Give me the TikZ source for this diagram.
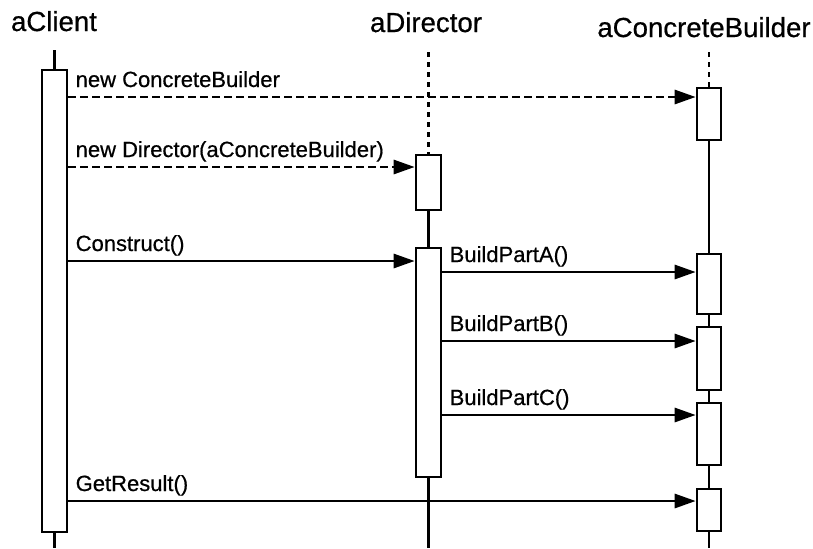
\documentclass[tikz,border=0pt]{standalone}
\usepackage{fontspec}
\setmainfont{Liberation Sans}
\newfontfamily\diagfont{Liberation Sans}[FakeBold=0.6, AutoFakeBold=0.6]
\usepackage{tikz}
\usetikzlibrary{arrows.meta, fit}

\tikzset{
  act/.style={draw, fill=white, line width=1.3pt, inner sep=0pt},
  life/.style={line width=1.1pt},
  lifedash/.style={line width=1.1pt, dash pattern=on 2.5pt off 2.5pt},
  call/.style={line width=1.4pt, -{Triangle[length=10.5pt,width=7pt]}},
  create/.style={call, dash pattern=on 4pt off 2pt},
  msglabel/.style={anchor=base west, font=\diagfont\bfseries\fontsize{11}{13}\selectfont, inner sep=0pt, xshift=3pt, yshift=5pt},
  objname/.style={anchor=base, font=\diagfont\fontsize{13.8}{16}\selectfont, inner sep=0pt},
}

\begin{document}
\begin{tikzpicture}[x=0.5pt, y=-0.5pt]
  \useasboundingbox (0,0) rectangle (813,548);

  % Objects
  \node[objname] (client) at (54,31) {aClient};
  \node[objname] (director) at (426,32) {aDirector};
  \node[objname] (builder) at (704,37) {aConcreteBuilder};

  % Lifeline ends
  \coordinate (clientTop) at (54.5,50);
  \coordinate (clientEnd) at (54.5,548);
  \coordinate (directorTop) at (428.5,52);
  \coordinate (directorEnd) at (428.5,548);
  \coordinate (builderTop) at (709,52);
  \coordinate (builderEnd) at (709,548);

  % Activations
  \node[act, fit={(42,70) (67,532)}] (clientAct) {};
  \node[act, fit={(416,155) (441,210)}] (dirAct1) {};
  \node[act, fit={(416,248) (441,477)}] (dirAct2) {};
  \node[act, fit={(697,88) (721,140)}] (bldAct1) {};
  \node[act, fit={(697,254) (721,314)}] (bldAct2) {};
  \node[act, fit={(697,327) (721,390)}] (bldAct3) {};
  \node[act, fit={(697,403) (721,465)}] (bldAct4) {};
  \node[act, fit={(697,489) (721,531)}] (bldAct5) {};

  % Lifelines
  \draw[life] (clientTop) -- (clientAct.north);
  \draw[life] (clientAct.south) -- (clientEnd);
  \draw[lifedash] (directorTop) -- (dirAct1.north);
  \draw[life] (dirAct1.south) -- (dirAct2.north);
  \draw[life] (dirAct2.south) -- (directorEnd);
  \draw[lifedash] (builderTop) -- (bldAct1.north);
  \draw[life] (bldAct1.south) -- (bldAct2.north);
  \draw[life] (bldAct2.south) -- (bldAct3.north);
  \draw[life] (bldAct3.south) -- (bldAct4.north);
  \draw[life] (bldAct4.south) -- (bldAct5.north);
  \draw[life] (bldAct5.south) -- (builderEnd);

  % Messages
  \draw[create] (clientAct.east |- 0,97) node[msglabel] (m1) {new ConcreteBuilder} -- (bldAct1.west |- 0,97);
  \draw[create] (clientAct.east |- 0,167) node[msglabel] (m2) {new Director(aConcreteBuilder)} -- (dirAct1.west |- 0,167);
  \draw[call] (clientAct.east |- 0,261) node[msglabel] (m3) {Construct()} -- (dirAct2.west |- 0,261);
  \draw[call] (dirAct2.east |- 0,272) node[msglabel] (m4) {BuildPartA()} -- (bldAct2.west |- 0,272);
  \draw[call] (dirAct2.east |- 0,341) node[msglabel] (m5) {BuildPartB()} -- (bldAct3.west |- 0,341);
  \draw[call] (dirAct2.east |- 0,415) node[msglabel] (m6) {BuildPartC()} -- (bldAct4.west |- 0,415);
  \draw[call] (clientAct.east |- 0,501) node[msglabel] (m7) {GetResult()} -- (bldAct5.west |- 0,501);
\end{tikzpicture}
\end{document}
